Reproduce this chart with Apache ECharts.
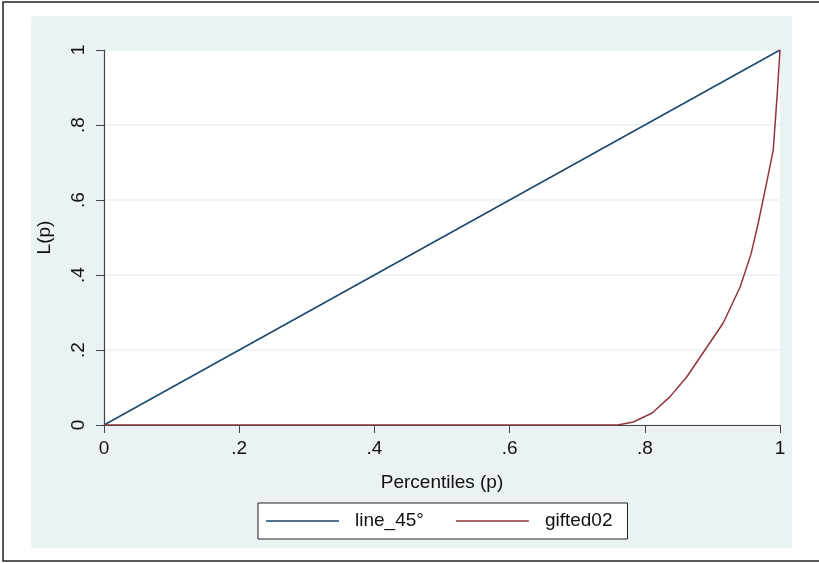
<!DOCTYPE html>
<html>
<head>
<meta charset="utf-8">
<script src="https://cdn.jsdelivr.net/npm/echarts@6/dist/echarts.min.js"></script>
<style>
  html, body { margin: 0; padding: 0; background: #fff; }
  #chart { width: 819px; height: 563px; }
</style>
</head>
<body>
<div id="chart"></div>
<script>
// data
var line45 = [[0, 0], [1, 1]];
var giftedP = [0, 0.76, 0.783, 0.811, 0.837, 0.862, 0.892, 0.916, 0.941, 0.957, 0.968, 0.981, 0.99, 0.996, 1];
var giftedL = [0, 0, 0.008, 0.032, 0.075, 0.128, 0.208, 0.272, 0.368, 0.455, 0.54, 0.653, 0.733, 0.885, 1];
var seriesNames = ["line_45°", "gifted02"];

var gifted = giftedP.map(function (p, i) { return [p, giftedL[i]]; });

function stataTick(v) {
  if (v === 0 || v === 1) return String(v);
  return String(Math.round(v * 10) / 10).replace(/^0/, "");
}

var font = "Liberation Sans, Arial, sans-serif";
var chart = echarts.init(document.getElementById("chart"));
chart.setOption({
  animation: false,
  backgroundColor: "#fff",
  graphic: [
    { type: "rect", z: -100, shape: { x: 3, y: 2, width: 830, height: 559 },
      style: { fill: "#fff", stroke: "#222", lineWidth: 1.5 } },
    { type: "rect", z: -99, shape: { x: 31, y: 16, width: 761, height: 532, r: 3 },
      style: { fill: "#eaf2f3" } }
  ],
  grid: {
    left: 104, top: 50, right: 39, bottom: 138,
    show: true, backgroundColor: "#fff", borderWidth: 0
  },
  legend: {
    data: seriesNames,
    left: 258, top: 503,
    orient: "horizontal",
    icon: "rect",
    borderColor: "#222", borderWidth: 1,
    backgroundColor: "#fff",
    padding: [8, 15, 8, 8],
    itemWidth: 73, itemHeight: 1.5, itemGap: 32,
    textStyle: { fontFamily: font, fontSize: 19, color: "#111", padding: [0, 0, 0, 11], lineHeight: 20 }
  },
  xAxis: {
    type: "value", min: 0, max: 1, interval: 0.2,
    name: "Percentiles (p)", nameLocation: "middle", nameGap: 48,
    nameTextStyle: { fontFamily: font, fontSize: 19, color: "#111" },
    axisLine: { show: true, lineStyle: { color: "#444", width: 1.2 } },
    axisTick: { show: true, length: 8, lineStyle: { color: "#444" } },
    axisLabel: { fontFamily: font, fontSize: 19, color: "#111", margin: 14, formatter: stataTick },
    splitLine: { show: false }
  },
  yAxis: {
    type: "value", min: 0, max: 1, interval: 0.2,
    name: "L(p)", nameLocation: "middle", nameGap: 50, nameRotate: 90,
    nameTextStyle: { fontFamily: font, fontSize: 19, color: "#111" },
    axisLine: { show: true, lineStyle: { color: "#444", width: 1.2 } },
    axisTick: { show: true, length: 8, lineStyle: { color: "#444" } },
    axisLabel: { fontFamily: font, fontSize: 19, color: "#111", margin: 16, rotate: 90, formatter: stataTick },
    splitLine: { show: true, lineStyle: { color: "#eaf2f3", width: 1.5 } }
  },
  series: [
    {
      name: seriesNames[0], type: "line", data: line45,
      symbol: "none", lineStyle: { color: "#1a476f", width: 1.5 }, itemStyle: { color: "#1a476f" }
    },
    {
      name: seriesNames[1], type: "line", data: gifted,
      symbol: "none", lineStyle: { color: "#90353b", width: 1.5 }, itemStyle: { color: "#90353b" }
    }
  ]
});
</script>
</body>
</html>
